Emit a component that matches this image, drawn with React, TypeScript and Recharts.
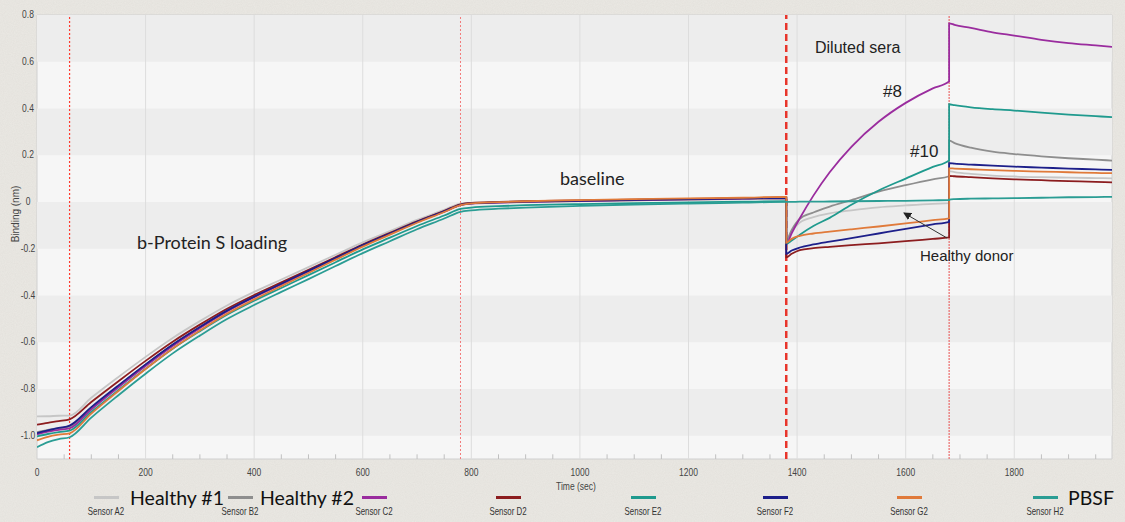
import React from 'react';
import { LineChart, Line, XAxis, YAxis, ReferenceLine, ReferenceArea } from 'recharts';

// ---- data ----
const TIME = [
  0, 20, 40, 60,
  100, 150, 200, 250, 300, 350, 400, 450, 500, 550, 600, 650, 700, 750, 780,
  800, 850, 900, 1000, 1100, 1200, 1300, 1380,
  1380, 1390, 1405, 1430, 1460, 1500, 1550, 1600, 1650, 1680,
  1680, 1690, 1720, 1760, 1800, 1850, 1900, 1950, 1980,
];

const A2 = [
  -0.918, -0.917, -0.915, -0.914,
  -0.838, -0.749, -0.663, -0.582, -0.51, -0.443, -0.385, -0.332, -0.279, -0.226, -0.173, -0.125, -0.077, -0.034, -0.007,
  -0.004, -0.001, 0.001, 0.004, 0.007, 0.009, 0.012, 0.014,
  -0.16, -0.125, -0.088, -0.065, -0.049, -0.036, -0.023, -0.015, -0.008, -0.005,
  0.132, 0.128, 0.12, 0.113, 0.109, 0.106, 0.104, 0.102, 0.101,
];
const B2 = [
  -0.985, -0.975, -0.968, -0.962,
  -0.882, -0.788, -0.697, -0.612, -0.536, -0.465, -0.405, -0.35, -0.295, -0.24, -0.185, -0.135, -0.085, -0.04, -0.012,
  -0.006, -0.002, 0.0, 0.004, 0.007, 0.01, 0.013, 0.015,
  -0.165, -0.12, -0.072, -0.045, -0.02, 0.008, 0.044, 0.072, 0.097, 0.11,
  0.262, 0.252, 0.232, 0.215, 0.205, 0.195, 0.187, 0.181, 0.177,
];
const C2 = [
  -0.995, -0.983, -0.975, -0.969,
  -0.888, -0.793, -0.702, -0.616, -0.54, -0.469, -0.408, -0.353, -0.297, -0.242, -0.187, -0.137, -0.087, -0.042, -0.014,
  -0.007, -0.003, 0.0, 0.004, 0.008, 0.011, 0.014, 0.017,
  -0.18, -0.134, -0.07, 0.027, 0.127, 0.236, 0.343, 0.424, 0.486, 0.516,
  0.764, 0.758, 0.745, 0.726, 0.712, 0.694, 0.68, 0.67, 0.664,
];
const D2 = [
  -0.953, -0.945, -0.938, -0.93,
  -0.856, -0.767, -0.68, -0.598, -0.525, -0.457, -0.398, -0.344, -0.29, -0.236, -0.182, -0.132, -0.083, -0.038, -0.01,
  -0.004, 0.0, 0.003, 0.007, 0.01, 0.013, 0.016, 0.019,
  -0.237, -0.222, -0.206, -0.198, -0.192, -0.185, -0.177, -0.168, -0.158, -0.152,
  0.112, 0.11, 0.106, 0.101, 0.097, 0.093, 0.089, 0.086, 0.084,
];
const E2 = [
  -1.003, -0.993, -0.985, -0.979,
  -0.899, -0.805, -0.714, -0.628, -0.553, -0.483, -0.423, -0.368, -0.313, -0.258, -0.203, -0.153, -0.103, -0.058, -0.03,
  -0.024, -0.018, -0.014, -0.009, -0.005, -0.002, 0.001, 0.003,
  -0.18, -0.165, -0.14, -0.103, -0.068, -0.012, 0.049, 0.1, 0.15, 0.178,
  0.418, 0.414, 0.405, 0.397, 0.391, 0.382, 0.374, 0.367, 0.363,
];
const F2 = [
  -0.99, -0.978, -0.967, -0.957,
  -0.878, -0.785, -0.695, -0.61, -0.535, -0.465, -0.405, -0.35, -0.295, -0.24, -0.185, -0.135, -0.085, -0.04, -0.012,
  -0.006, -0.002, 0.001, 0.005, 0.009, 0.012, 0.015, 0.018,
  -0.222, -0.208, -0.195, -0.182, -0.17, -0.155, -0.135, -0.115, -0.096, -0.085,
  0.166, 0.164, 0.16, 0.155, 0.151, 0.147, 0.143, 0.139, 0.137,
];
const G2 = [
  -1.02, -1.005, -0.996, -0.99,
  -0.906, -0.809, -0.715, -0.627, -0.55, -0.478, -0.417, -0.36, -0.304, -0.247, -0.191, -0.14, -0.089, -0.043, -0.014,
  -0.006, -0.001, 0.003, 0.008, 0.012, 0.015, 0.018, 0.022,
  -0.175, -0.158, -0.145, -0.135, -0.127, -0.117, -0.105, -0.092, -0.078, -0.07,
  0.144, 0.143, 0.14, 0.136, 0.133, 0.13, 0.127, 0.124, 0.123,
];
const H2 = [
  -1.05, -1.028, -1.015, -1.007,
  -0.923, -0.827, -0.735, -0.648, -0.572, -0.501, -0.441, -0.385, -0.33, -0.274, -0.219, -0.168, -0.117, -0.071, -0.042,
  -0.036, -0.029, -0.024, -0.017, -0.011, -0.007, -0.003, 0.0,
  0.0, 0.0, 0.001, 0.001, 0.002, 0.003, 0.004, 0.005, 0.007, 0.008,
  0.01, 0.012, 0.014, 0.015, 0.016, 0.018, 0.02, 0.021, 0.022,
];

const SENSORS = ['A2', 'B2', 'C2', 'D2', 'E2', 'F2', 'G2', 'H2'];
const SENSOR_LABELS = ['Sensor A2', 'Sensor B2', 'Sensor C2', 'Sensor D2', 'Sensor E2', 'Sensor F2', 'Sensor G2', 'Sensor H2'];
const SENSOR_COLORS = ['#c6c6c6', '#8e8e8e', '#9a2c9e', '#8c1d1f', '#1f9a8e', '#1d1f8a', '#e07a3a', '#2b9d94'];
const SERIES_VALUES = [A2, B2, C2, D2, E2, F2, G2, H2];
const LEGEND_NAMES = ['Healthy #1', 'Healthy #2', '', '', '', '', '', 'PBSF'];

const X_TICKS = [0, 200, 400, 600, 800, 1000, 1200, 1400, 1600, 1800];
const X_MINOR = [50, 100, 150, 250, 300, 350, 450, 500, 550, 650, 700, 750, 850, 900, 950, 1050, 1100, 1150, 1250, 1300, 1350, 1450, 1500, 1550, 1650, 1700, 1750, 1850, 1900, 1950];
const Y_TICKS = [0.8, 0.6, 0.4, 0.2, 0, -0.2, -0.4, -0.6, -0.8, -1.0];
const GRAY_BANDS = [[0.6, 0.8], [0.2, 0.4], [-0.2, 0], [-0.6, -0.4], [-1.0, -0.8]];
const STEP_TIMES = [60, 780, 1380, 1680];

const data = TIME.map((t, i) => {
  const row: any = { t };
  SENSORS.forEach((s, k) => { row[s] = SERIES_VALUES[k][i]; });
  return row;
});

const ARIAL = "'Liberation Sans', Arial, sans-serif";
const CAL = "Lato, 'Open Sans', sans-serif";

const W = 1125;
const H = 522;

const stepStyles = [
  { stroke: '#ff3a2e', strokeWidth: 1.2, strokeDasharray: '2 2' },
  { stroke: '#f27b7b', strokeWidth: 1, strokeDasharray: '2 2' },
  { stroke: '#e8352b', strokeWidth: 2.5, strokeDasharray: '7 4' },
  { stroke: '#e85050', strokeWidth: 1, strokeDasharray: '2 1' },
];

const YTick = (props: any) => {
  const { y, payload } = props;
  const v = payload.value;
  const label = v === 0 ? '0' : v.toFixed(1);
  return (
    <text x={28} y={y} textAnchor="middle" dominantBaseline="central" fontSize={10} fontFamily={ARIAL} fill="#444" transform={`translate(28 ${y}) scale(0.85 1) translate(-28 ${-y})`}>
      {label}
    </text>
  );
};

const XTick = (props: any) => {
  const { x, y, payload } = props;
  return (
    <text x={x} y={y + 6} textAnchor="middle" dominantBaseline="central" fontSize={10} fontFamily={ARIAL} fill="#444" transform={`translate(${x} 0) scale(0.85 1) translate(${-x} 0)`}>
      {payload.value}
    </text>
  );
};

const legendCenters = [106, 240, 374, 508, 643, 775, 909, 1045];
const legendNameX = [130, 260, 0, 0, 0, 0, 0, 1068];

export default function App() {
  return (
    <div style={{ position: 'absolute', left: 0, top: 0, width: W, height: H, background: '#ebe9e4', overflow: 'hidden' }}>
      <svg width={W} height={H} style={{ position: 'absolute', left: 0, top: 0 }}>
        <filter id="grain">
          <feTurbulence type="fractalNoise" baseFrequency="0.9" numOctaves="2" seed="3" />
          <feColorMatrix type="matrix" values="0 0 0 0 0.5  0 0 0 0 0.48  0 0 0 0 0.45  0 0 0 0.35 0" />
        </filter>
        <rect x={0} y={0} width={W} height={H} filter="url(#grain)" opacity={0.5} />
      </svg>
      <div style={{ position: 'absolute', left: 0, top: 0 }}>
        <LineChart width={W} height={H} data={data} margin={{ top: 15, right: 13, bottom: 0, left: 0 }}>
          <XAxis
            dataKey="t"
            type="number"
            domain={[0, 1980]}
            ticks={X_TICKS}
            tick={<XTick />}
            tickLine={false}
            axisLine={false}
            height={63}
            allowDataOverflow
          />
          <YAxis
            type="number"
            domain={[-1.1, 0.8]}
            ticks={Y_TICKS}
            tick={<YTick />}
            tickLine={false}
            axisLine={false}
            width={37}
            allowDataOverflow
          />
          <ReferenceArea x1={0} x2={1980} y1={-1.1} y2={0.8} fill="#f6f6f6" fillOpacity={1} stroke="#d0d0d0" strokeWidth={1} ifOverflow="visible" />
          {GRAY_BANDS.map(([a, b], i) => (
            <ReferenceArea key={'band' + i} x1={0} x2={1980} y1={a} y2={b} fill="#ededed" fillOpacity={1} stroke="none" />
          ))}
          {X_TICKS.filter((t) => t > 0).map((t) => (
            <ReferenceLine key={'g' + t} x={t} stroke="#dddddd" strokeWidth={1} />
          ))}
          {X_MINOR.map((t) => (
            <ReferenceLine key={'m' + t} segment={[{ x: t, y: -1.1 }, { x: t, y: -1.08 }]} stroke="#c0c0c0" strokeWidth={1} />
          ))}
          {STEP_TIMES.map((t, i) => (
            <ReferenceLine key={'s' + t} x={t} {...stepStyles[i]} />
          ))}
          {SENSORS.map((s, k) => (
            <Line
              key={s}
              dataKey={s}
              type="monotone"
              stroke={SENSOR_COLORS[k]}
              strokeWidth={1.8}
              dot={false}
              activeDot={false}
              isAnimationActive={false}
            />
          ))}
        </LineChart>
      </div>

      {/* axis titles */}
      <div style={{ position: 'absolute', left: 576, top: 486, transform: 'translate(-50%, -50%) scaleX(0.85)', fontFamily: ARIAL, fontSize: 10, color: '#444', whiteSpace: 'nowrap' }}>
        Time (sec)
      </div>
      <div style={{ position: 'absolute', left: 15, top: 214, transform: 'translate(-50%, -50%) rotate(-90deg)', fontFamily: ARIAL, fontSize: 10, color: '#444', whiteSpace: 'nowrap' }}>
        Binding (nm)
      </div>

      {/* annotations */}
      <div style={{ position: 'absolute', left: 137, top: 242, transform: 'translateY(-50%)', fontFamily: CAL, fontSize: 18, color: '#222', whiteSpace: 'nowrap' }}>b-Protein S loading</div>
      <div style={{ position: 'absolute', left: 560, top: 178, transform: 'translateY(-50%)', fontFamily: CAL, fontSize: 18, color: '#222', whiteSpace: 'nowrap' }}>baseline</div>
      <div style={{ position: 'absolute', left: 815, top: 48, transform: 'translateY(-50%)', fontFamily: ARIAL, fontSize: 16, color: '#222', whiteSpace: 'nowrap' }}>Diluted sera</div>
      <div style={{ position: 'absolute', left: 883, top: 92, transform: 'translateY(-50%)', fontFamily: ARIAL, fontSize: 17, color: '#222', whiteSpace: 'nowrap' }}>#8</div>
      <div style={{ position: 'absolute', left: 910, top: 152, transform: 'translateY(-50%)', fontFamily: ARIAL, fontSize: 17, color: '#222', whiteSpace: 'nowrap' }}>#10</div>
      <div style={{ position: 'absolute', left: 920, top: 255, transform: 'translateY(-50%)', fontFamily: ARIAL, fontSize: 15, color: '#222', whiteSpace: 'nowrap' }}>Healthy donor</div>
      <svg width={W} height={H} style={{ position: 'absolute', left: 0, top: 0, pointerEvents: 'none' }}>
        <defs>
          <marker id="arrowhead" markerWidth="8" markerHeight="8" refX="7" refY="4" orient="auto" markerUnits="userSpaceOnUse">
            <path d="M0,0 L8,4 L0,8 z" fill="#222" />
          </marker>
        </defs>
        <line x1={947} y1={238} x2={904} y2={213} stroke="#333" strokeWidth={1} markerEnd="url(#arrowhead)" />
      </svg>

      {/* legend */}
      {SENSORS.map((s, k) => (
        <React.Fragment key={'lg' + s}>
          <div style={{ position: 'absolute', left: legendCenters[k] - 12, top: 496, width: 25, height: 3, background: SENSOR_COLORS[k] }} />
          <div style={{ position: 'absolute', left: legendCenters[k], top: 511, transform: 'translate(-50%, -50%) scaleX(0.75)', fontFamily: ARIAL, fontSize: 10.5, color: '#333', whiteSpace: 'nowrap' }}>
            {SENSOR_LABELS[k]}
          </div>
          {LEGEND_NAMES[k] ? (
            <div style={{ position: 'absolute', left: legendNameX[k], top: 497, transform: 'translateY(-50%)', fontFamily: CAL, fontSize: 19.5, color: '#111', whiteSpace: 'nowrap' }}>
              {LEGEND_NAMES[k]}
            </div>
          ) : null}
        </React.Fragment>
      ))}
    </div>
  );
}
